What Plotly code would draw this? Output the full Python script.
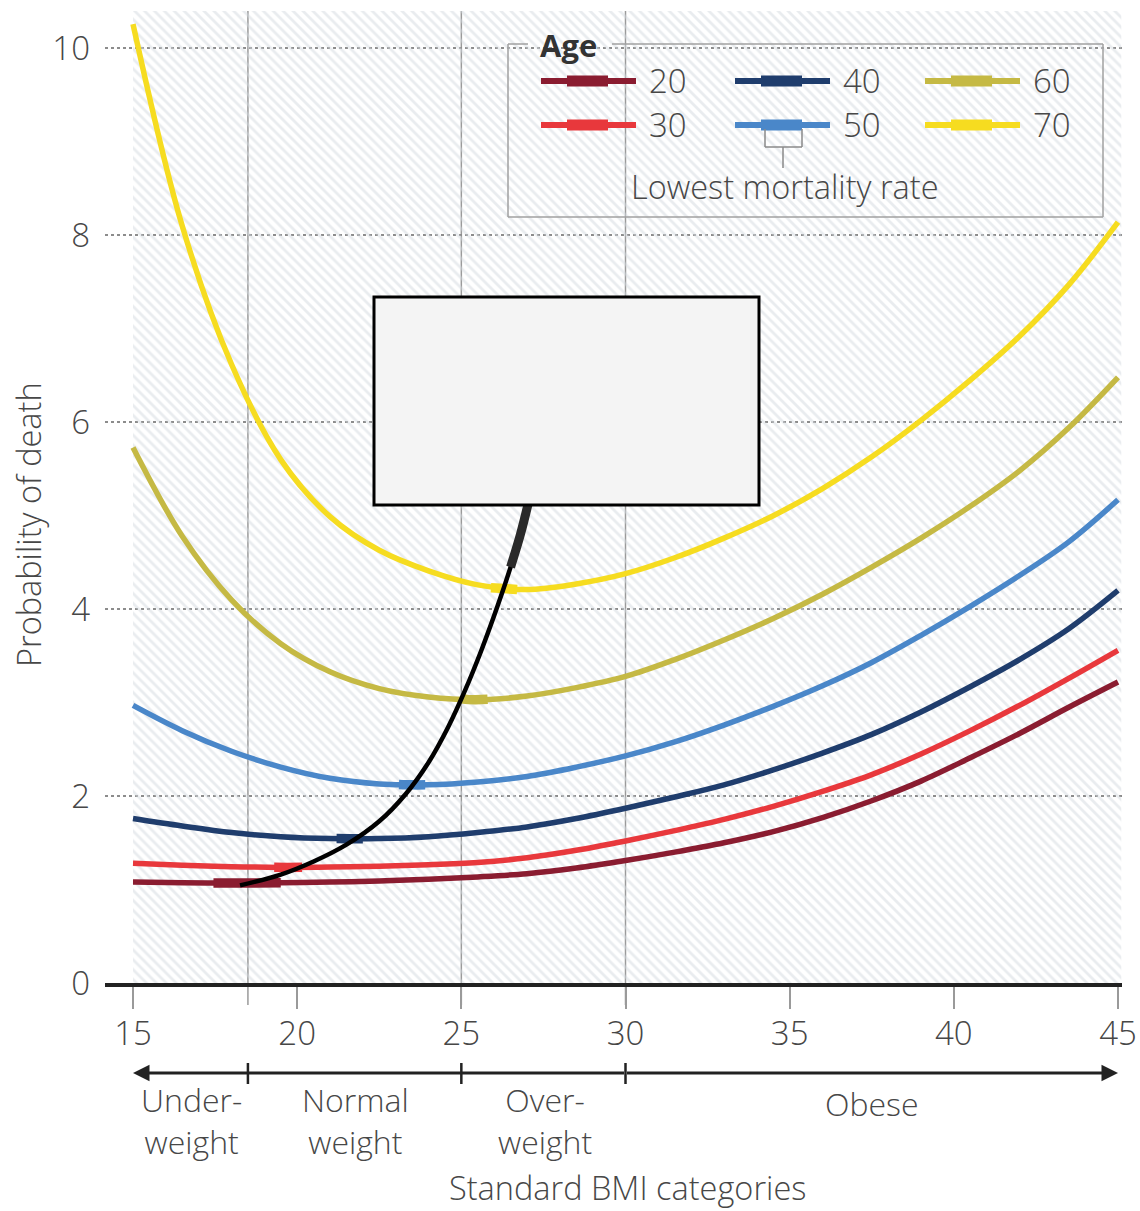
import plotly.graph_objects as go

# ---- data -------------------------------------------------------------
bmi = [15, 16.5, 18, 19.5, 21, 22.5, 24, 25.5, 27, 28.5, 30,
       31.5, 33, 34.5, 36, 37.5, 39, 40.5, 42, 43.5, 45]

death_age20 = [1.08, 1.073, 1.07, 1.072, 1.08, 1.092, 1.11, 1.135, 1.17, 1.23, 1.31,
               1.40, 1.50, 1.62, 1.77, 1.95, 2.16, 2.41, 2.67, 2.95, 3.22]
death_age30 = [1.28, 1.26, 1.245, 1.237, 1.24, 1.25, 1.265, 1.29, 1.34, 1.42, 1.52,
               1.63, 1.75, 1.89, 2.05, 2.23, 2.45, 2.70, 2.97, 3.26, 3.56]
death_age40 = [1.76, 1.68, 1.61, 1.565, 1.545, 1.545, 1.565, 1.61, 1.67, 1.76, 1.87,
               1.99, 2.12, 2.28, 2.46, 2.66, 2.90, 3.17, 3.46, 3.79, 4.20]
death_age50 = [2.97, 2.70, 2.48, 2.31, 2.19, 2.13, 2.12, 2.15, 2.21, 2.31, 2.43,
               2.58, 2.76, 2.96, 3.18, 3.43, 3.72, 4.03, 4.36, 4.72, 5.17]
death_age60 = [5.73, 4.78, 4.10, 3.63, 3.33, 3.15, 3.06, 3.03, 3.07, 3.16, 3.28,
               3.46, 3.67, 3.90, 4.16, 4.45, 4.76, 5.10, 5.48, 5.94, 6.48]
death_age70 = [10.26, 8.10, 6.62, 5.60, 4.99, 4.63, 4.41, 4.26, 4.21, 4.27, 4.38,
               4.55, 4.76, 5.00, 5.29, 5.63, 6.02, 6.45, 6.92, 7.47, 8.14]

# stretch of each curve with the lowest mortality rate
low_bmi_age20 = [17.45, 18.5, 19.5]
low_val_age20 = [1.071, 1.07, 1.072]
low_bmi_age30 = [19.3, 19.7, 20.15]
low_val_age30 = [1.238, 1.237, 1.238]
low_bmi_age40 = [21.2, 21.6, 22.0]
low_val_age40 = [1.545, 1.544, 1.544]
low_bmi_age50 = [23.1, 23.5, 23.9]
low_val_age50 = [2.125, 2.12, 2.12]
low_bmi_age60 = [25.0, 25.4, 25.8]
low_val_age60 = [3.04, 3.03, 3.035]
low_bmi_age70 = [25.9, 26.3, 26.7]
low_val_age70 = [4.23, 4.22, 4.21]

# line joining the minima
minima_bmi = [18.26, 19.5, 20.5, 21.5, 22.5, 23.3, 24.0, 24.6, 25.1, 25.6, 26.1, 26.5, 26.8, 27.05]
minima_val = [1.045, 1.16, 1.30, 1.48, 1.73, 2.02, 2.36, 2.74, 3.12, 3.55, 4.03, 4.45, 4.80, 5.15]
taper_bmi = [26.5, 26.8, 27.05]
taper_val = [4.45, 4.80, 5.15]

ages = ["20", "30", "40", "50", "60", "70"]
series = [death_age20, death_age30, death_age40, death_age50, death_age60, death_age70]
low_bmi = [low_bmi_age20, low_bmi_age30, low_bmi_age40, low_bmi_age50, low_bmi_age60, low_bmi_age70]
low_val = [low_val_age20, low_val_age30, low_val_age40, low_val_age50, low_val_age60, low_val_age70]
colors = ["#8a1c30", "#e8383c", "#1f3d6d", "#4a87c9", "#c5b944", "#f6dc20"]

x_ticks = [15, 20, 25, 30, 35, 40, 45]
y_ticks = [0, 2, 4, 6, 8, 10]
category_cuts = [18.5, 25, 30]
category_names = ["Under-<br>weight", "Normal<br>weight", "Over-<br>weight", "Obese"]

# ---- layout geometry (pixels) ----------------------------------------
FIG_W, FIG_H = 1140, 1211
L, R, T, B = 105, 1122, 11, 983
PW, PH = R - L, B - T


def fx(p):
    return (p - L) / PW


def fy(p):
    return (B - p) / PH


TEXT = "#474747"
FONT = "'Open Sans', Lato, sans-serif"


def tfont(size, color=TEXT, weight=300):
    return dict(size=size, color=color, family=FONT, weight=weight)


fig = go.Figure()

# hatched plotting field
fig.add_trace(go.Bar(
    x=[30.05], y=[10.4], width=[30.1], base=0,
    marker=dict(color="rgba(0,0,0,0)", line_width=0,
                pattern=dict(shape="\\", fgcolor="#d3d9e0", bgcolor="rgba(0,0,0,0)",
                             size=7, solidity=0.4, fillmode="overlay")),
    hoverinfo="skip", showlegend=False))

# mortality curves
for age, vals, col in zip(ages, series, colors):
    fig.add_trace(go.Scatter(x=bmi, y=vals, mode="lines", name=age,
                             line=dict(color=col, width=5.5, shape="spline", smoothing=1.0),
                             hoverinfo="skip", showlegend=False))
for lx, ly, col in zip(low_bmi, low_val, colors):
    fig.add_trace(go.Scatter(x=lx, y=ly, mode="lines",
                             line=dict(color=col, width=9.5, shape="spline"),
                             hoverinfo="skip", showlegend=False))

# curve through the minima
fig.add_trace(go.Scatter(x=minima_bmi, y=minima_val, mode="lines",
                         line=dict(color="#000000", width=4.5, shape="spline", smoothing=1.0),
                         hoverinfo="skip", showlegend=False))
fig.add_trace(go.Scatter(x=taper_bmi, y=taper_val, mode="lines",
                         line=dict(color="#2a2a2a", width=9, shape="spline"),
                         hoverinfo="skip", showlegend=False))

shapes = []
annotations = []

# category boundaries
for c in category_cuts:
    shapes.append(dict(type="line", xref="x", yref="paper", x0=c, x1=c,
                       y0=fy(1005), y1=1, line=dict(color="#9a9a9a", width=1.5), layer="below"))

# overlay panel
shapes.append(dict(type="rect", xref="paper", yref="paper",
                   x0=fx(374), x1=fx(759), y0=fy(505), y1=fy(297),
                   fillcolor="#f4f4f4", line=dict(color="#000000", width=3), layer="above"))

# legend frame with a gap for its title
frame = dict(color="#a0a0a0", width=1.5)
for (x0, y0, x1, y1) in [(508, 44, 508, 217), (508, 217, 1103, 217), (1103, 217, 1103, 44),
                         (1103, 44, 612, 44), (508, 44, 528, 44)]:
    shapes.append(dict(type="line", xref="paper", yref="paper",
                       x0=fx(x0), y0=fy(y0), x1=fx(x1), y1=fy(y1), line=frame, layer="above"))

annotations.append(dict(text="<b>Age</b>", xref="paper", yref="paper", x=fx(568), y=fy(45),
                        xanchor="center", yanchor="middle", showarrow=False,
                        font=tfont(31, "#333333", 700)))

legend_cols = [541, 735, 925]
legend_rows = [81, 125]
for i, (age, col) in enumerate(zip(ages, colors)):
    cx = legend_cols[i // 2]
    ry = legend_rows[i % 2]
    shapes.append(dict(type="line", xref="paper", yref="paper",
                       x0=fx(cx), x1=fx(cx + 95), y0=fy(ry), y1=fy(ry),
                       line=dict(color=col, width=6), layer="above"))
    shapes.append(dict(type="line", xref="paper", yref="paper",
                       x0=fx(cx + 26), x1=fx(cx + 67), y0=fy(ry), y1=fy(ry),
                       line=dict(color=col, width=11), layer="above"))
    annotations.append(dict(text=age, xref="paper", yref="paper", x=fx(cx + 106), y=fy(ry),
                            xanchor="left", yanchor="middle", showarrow=False,
                            font=tfont(33)))

# bracket pointing at the thick stretch
brk = dict(color="#8a8a8a", width=1.5)
for (x0, y0, x1, y1) in [(765, 129, 765, 147), (765, 147, 802, 147), (802, 147, 802, 129),
                         (783, 147, 783, 168)]:
    shapes.append(dict(type="line", xref="paper", yref="paper",
                       x0=fx(x0), y0=fy(y0), x1=fx(x1), y1=fy(y1), line=brk, layer="above"))
annotations.append(dict(text="Lowest mortality rate", xref="paper", yref="paper",
                        x=fx(785), y=fy(187), xanchor="center", yanchor="middle",
                        showarrow=False, font=tfont(32.5)))

# BMI category scale below the axis
scale_y = fy(1073)
for head in (15, 45):
    annotations.append(dict(text="", xref="x", yref="paper", x=head, y=scale_y,
                            axref="x", ayref="pixel", ax=30, ay=0, showarrow=True,
                            arrowhead=2, arrowsize=1.1, arrowwidth=3, arrowcolor="#222222",
                            standoff=0, startstandoff=0))
for c in category_cuts:
    shapes.append(dict(type="line", xref="x", yref="paper", x0=c, x1=c,
                       y0=fy(1063), y1=fy(1084), line=dict(color="#222222", width=2.5)))

category_centres = [191, 355, 545, 872]
category_rows = [1120, 1120, 1120, 1103]
for name, cx, cy in zip(category_names, category_centres, category_rows):
    annotations.append(dict(text=name, xref="paper", yref="paper", x=fx(cx), y=fy(cy),
                            xanchor="center", yanchor="middle", showarrow=False,
                            font=tfont(32)))

annotations.append(dict(text="Standard BMI categories", xref="paper", yref="paper",
                        x=fx(627), y=fy(1211), xanchor="center", yanchor="bottom",
                        borderpad=0, showarrow=False, font=tfont(32.5)))
annotations.append(dict(text="Probability of death", xref="paper", yref="paper",
                        x=fx(28), y=fy(525), xanchor="center", yanchor="middle",
                        textangle=-90, showarrow=False, font=tfont(32.5)))

fig.update_layout(
    width=FIG_W, height=FIG_H,
    margin=dict(l=L, r=FIG_W - R, t=T, b=FIG_H - B),
    paper_bgcolor="#ffffff", plot_bgcolor="#ffffff",
    showlegend=False,
    shapes=shapes, annotations=annotations,
    xaxis=dict(range=[15 - 28 / 32.83, 45 + 4 / 32.83], tickvals=x_ticks,
               ticktext=[str(v) for v in x_ticks], automargin=False,
               showgrid=False, zeroline=False,
               showline=True, linecolor="#222222", linewidth=4,
               ticks="outside", ticklen=22, tickwidth=1.5, tickcolor="#9a9a9a",
               tickfont=tfont(33), ticklabelstandoff=-4,
               fixedrange=True),
    yaxis=dict(range=[0, 10.4], tickvals=y_ticks, ticktext=[str(v) for v in y_ticks],
               automargin=False,
               showgrid=True, gridcolor="#8c8c8c", griddash="dot", gridwidth=1.5,
               zeroline=False, showline=False, ticks="",
               tickfont=tfont(33), ticklabelstandoff=14,
               fixedrange=True),
)

fig.write_html("out.html", config={"displayModeBar": False})
